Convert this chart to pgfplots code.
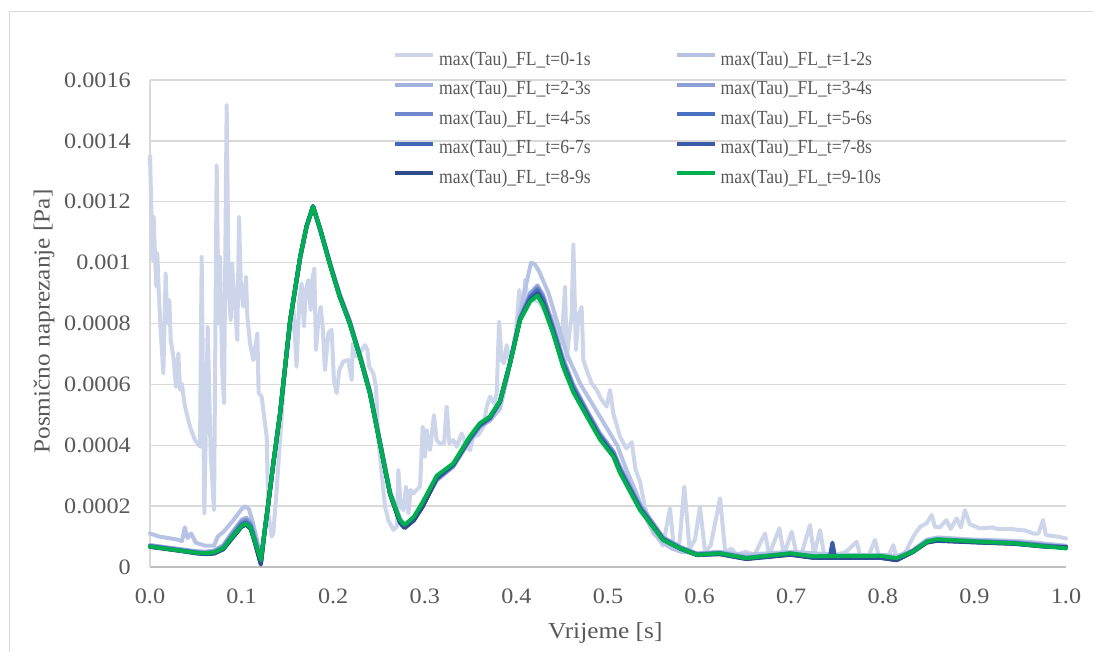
\documentclass[border=0pt]{standalone}
\usepackage{fontspec}
\setmainfont{Liberation Serif}
\newfontfamily\tickfont{Liberation Serif}[FakeStretch=1.1]
\newfontfamily\legfont{Liberation Serif}[FakeStretch=0.88]
\usepackage{pgfplots}
\usepackage{pgfplotstable}
\pgfplotsset{compat=1.18}
\definecolor{cA}{HTML}{CDD5EA}
\definecolor{cB}{HTML}{B6C3E5}
\definecolor{cC}{HTML}{A2B3DF}
\definecolor{cD}{HTML}{8C9FD7}
\definecolor{cE}{HTML}{7089CE}
\definecolor{cF}{HTML}{4A72C4}
\definecolor{cG}{HTML}{4368BA}
\definecolor{cH}{HTML}{3B5BA8}
\definecolor{cI}{HTML}{2F4D8E}
\definecolor{cJ}{HTML}{00B050}
\definecolor{gridgray}{HTML}{D9D9D9}
\definecolor{axgray}{HTML}{BFBFBF}
\definecolor{txtgray}{HTML}{595959}

\pgfplotstableread{
x      a        b        c        d        e        f        g        h
0.000  0.000072 0.000070 0.000069 0.000068 0.000068 0.000067 0.000066 0.000067
0.010  0.000068 0.000066 0.000065 0.000064 0.000064 0.000063 0.000062 0.000063
0.020  0.000064 0.000062 0.000061 0.000060 0.000060 0.000059 0.000058 0.000059
0.030  0.000060 0.000058 0.000057 0.000056 0.000055 0.000055 0.000054 0.000055
0.040  0.000056 0.000054 0.000053 0.000052 0.000051 0.000050 0.000050 0.000051
0.050  0.000052 0.000050 0.000049 0.000047 0.000046 0.000046 0.000045 0.000047
0.060  0.000050 0.000048 0.000046 0.000045 0.000044 0.000043 0.000042 0.000045
0.070  0.000054 0.000051 0.000049 0.000047 0.000046 0.000045 0.000044 0.000048
0.080  0.000072 0.000068 0.000065 0.000062 0.000060 0.000059 0.000058 0.000062
0.090  0.000115 0.000110 0.000106 0.000102 0.000099 0.000097 0.000095 0.000100
0.100  0.000155 0.000150 0.000145 0.000140 0.000137 0.000134 0.000132 0.000135
0.105  0.000162 0.000156 0.000152 0.000147 0.000144 0.000141 0.000139 0.000142
0.110  0.000148 0.000142 0.000137 0.000132 0.000128 0.000126 0.000124 0.000128
0.115  0.000098 0.000092 0.000087 0.000082 0.000078 0.000076 0.000074 0.000080
0.121  0.000030 0.000024 0.000018 0.000014 0.000012 0.000010 0.000008 0.000023
0.125  0.000110 0.000112 0.000113 0.000114 0.000115 0.000114 0.000113 0.000115
0.130  0.000225 0.000227 0.000228 0.000229 0.000230 0.000229 0.000228 0.000230
0.135  0.000345 0.000347 0.000348 0.000349 0.000350 0.000349 0.000348 0.000350
0.142  0.000500 0.000502 0.000504 0.000505 0.000506 0.000505 0.000504 0.000506
0.153  0.000805 0.000808 0.000809 0.000810 0.000811 0.000810 0.000810 0.000811
0.164  0.001015 0.001017 0.001018 0.001019 0.001020 0.001019 0.001020 0.001020
0.171  0.001118 0.001119 0.001120 0.001120 0.001120 0.001121 0.001120 0.001120
0.178  0.001180 0.001182 0.001184 0.001185 0.001186 0.001185 0.001185 0.001185
0.186  0.001110 0.001110 0.001109 0.001108 0.001108 0.001107 0.001107 0.001107
0.197  0.000995 0.000993 0.000991 0.000990 0.000989 0.000988 0.000988 0.000987
0.207  0.000898 0.000895 0.000893 0.000891 0.000890 0.000889 0.000889 0.000888
0.218  0.000810 0.000807 0.000805 0.000803 0.000802 0.000801 0.000801 0.000800
0.229  0.000700 0.000697 0.000695 0.000694 0.000693 0.000692 0.000692 0.000691
0.240  0.000580 0.000577 0.000575 0.000574 0.000573 0.000572 0.000572 0.000571
0.251  0.000412 0.000410 0.000408 0.000407 0.000407 0.000406 0.000406 0.000406
0.262  0.000245 0.000243 0.000242 0.000241 0.000241 0.000240 0.000240 0.000242
0.273  0.000150 0.000149 0.000148 0.000147 0.000147 0.000146 0.000145 0.000154
0.278  0.000133 0.000132 0.000131 0.000130 0.000130 0.000129 0.000128 0.000138
0.288  0.000158 0.000157 0.000156 0.000155 0.000155 0.000154 0.000153 0.000165
0.298  0.000205 0.000204 0.000203 0.000202 0.000202 0.000201 0.000200 0.000215
0.313  0.000285 0.000286 0.000288 0.000290 0.000292 0.000293 0.000294 0.000300
0.331  0.000330 0.000331 0.000333 0.000334 0.000335 0.000336 0.000337 0.000340
0.349  0.000415 0.000417 0.000419 0.000421 0.000423 0.000424 0.000425 0.000428
0.360  0.000460 0.000462 0.000464 0.000466 0.000467 0.000468 0.000469 0.000472
0.371  0.000485 0.000487 0.000488 0.000489 0.000490 0.000491 0.000492 0.000494
0.382  0.000540 0.000541 0.000542 0.000543 0.000543 0.000544 0.000544 0.000545
0.393  0.000670 0.000670 0.000670 0.000669 0.000669 0.000669 0.000669 0.000669
0.404  0.000820 0.000818 0.000817 0.000815 0.000814 0.000813 0.000812 0.000811
0.415  0.000900 0.000895 0.000890 0.000886 0.000882 0.000878 0.000875 0.000872
0.423  0.000925 0.000920 0.000915 0.000910 0.000905 0.000900 0.000896 0.000892
0.429  0.000895 0.000890 0.000885 0.000880 0.000875 0.000870 0.000866 0.000860
0.440  0.000795 0.000790 0.000786 0.000782 0.000778 0.000774 0.000771 0.000768
0.451  0.000685 0.000680 0.000676 0.000672 0.000668 0.000664 0.000661 0.000658
0.462  0.000600 0.000596 0.000592 0.000588 0.000584 0.000581 0.000578 0.000575
0.477  0.000515 0.000512 0.000508 0.000505 0.000502 0.000499 0.000497 0.000494
0.491  0.000440 0.000437 0.000434 0.000431 0.000428 0.000425 0.000423 0.000420
0.506  0.000380 0.000377 0.000374 0.000371 0.000368 0.000366 0.000364 0.000362
0.513  0.000330 0.000326 0.000323 0.000320 0.000317 0.000314 0.000312 0.000310
0.535  0.000205 0.000201 0.000198 0.000195 0.000192 0.000190 0.000189 0.000187
0.560  0.000098 0.000096 0.000094 0.000092 0.000091 0.000090 0.000090 0.000089
0.579  0.000066 0.000064 0.000063 0.000062 0.000061 0.000061 0.000060 0.000061
0.597  0.000044 0.000043 0.000042 0.000041 0.000040 0.000040 0.000039 0.000040
0.622  0.000048 0.000047 0.000046 0.000045 0.000044 0.000043 0.000042 0.000045
0.651  0.000032 0.000031 0.000030 0.000029 0.000028 0.000027 0.000026 0.000029
0.699  0.000046 0.000045 0.000044 0.000043 0.000042 0.000041 0.000040 0.000045
0.724  0.000036 0.000035 0.000034 0.000033 0.000032 0.000031 0.000030 0.000035
0.742  0.000035 0.000034 0.000033 0.000032 0.000031 0.000030 0.000030 0.000036
0.745  0.000035 0.000034 0.000033 0.000032 0.000031 0.000080 0.000030 0.000036
0.748  0.000035 0.000034 0.000033 0.000032 0.000031 0.000030 0.000030 0.000036
0.797  0.000036 0.000035 0.000034 0.000033 0.000032 0.000031 0.000030 0.000037
0.815  0.000028 0.000027 0.000026 0.000025 0.000024 0.000023 0.000022 0.000029
0.833  0.000055 0.000054 0.000053 0.000052 0.000051 0.000050 0.000049 0.000050
0.848  0.000086 0.000085 0.000084 0.000083 0.000082 0.000081 0.000080 0.000083
0.859  0.000092 0.000091 0.000090 0.000089 0.000088 0.000087 0.000086 0.000091
0.906  0.000086 0.000085 0.000084 0.000083 0.000082 0.000081 0.000080 0.000083
0.943  0.000082 0.000081 0.000080 0.000079 0.000078 0.000077 0.000076 0.000078
0.979  0.000072 0.000071 0.000070 0.000069 0.000068 0.000067 0.000066 0.000067
1.000  0.000067 0.000066 0.000065 0.000064 0.000064 0.000065 0.000066 0.000061
}\maintable

\begin{document}
\begin{tikzpicture}
\useasboundingbox (0pt,0pt) rectangle (1093pt,652pt);
\draw[color=gridgray, line width=1.2pt] (9.5pt,0pt) -- (9.5pt,640.5pt) -- (1093pt,640.5pt);
\begin{axis}[
  at={(150pt,85pt)}, anchor=south west,
  width=916pt, height=487pt, scale only axis,
  xmin=0, xmax=1, ymin=0, ymax=0.0016,
  axis x line*=bottom, axis y line*=left,
  x axis line style={-, color=axgray, line width=1.3pt},
  y axis line style={-, color=gridgray, line width=1.3pt},
  ymajorgrids, grid style={color=gridgray, line width=1.3pt},
  major tick length=0pt,
  scaled y ticks=false, scaled x ticks=false,
  /pgf/number format/assume math mode=true,
  xtick={0,0.1,0.2,0.3,0.4,0.5,0.6,0.7,0.8,0.9,1},
  xticklabels={0.0,0.1,0.2,0.3,0.4,0.5,0.6,0.7,0.8,0.9,1.0},
  ytick={0,0.0002,0.0004,0.0006,0.0008,0.001,0.0012,0.0014,0.0016},
  yticklabels={0,0.0002,0.0004,0.0006,0.0008,0.001,0.0012,0.0014,0.0016},
  tick label style={font=\tickfont\fontsize{22}{22}\selectfont, text=txtgray},
  xticklabel style={anchor=north, inner sep=0pt, yshift=-22pt},
  yticklabel style={anchor=east, inner sep=0pt, xshift=-19pt},
  xlabel={Vrijeme [s]}, ylabel={Posmično naprezanje [Pa]},
  label style={font=\tickfont\fontsize{23}{23}\selectfont, text=txtgray},
  x label style={at={(axis description cs:0.497,-0.1355)}, anchor=center},
  y label style={at={(axis description cs:-0.1157,0.504)}, anchor=center},
  legend columns=2,
  legend cell align=left,
  legend style={at={(0.2653,1.059)}, anchor=north west, draw=none, fill=none,
    font=\legfont\fontsize{20}{20}\selectfont, text=txtgray,
    row sep=11.4pt, inner sep=0pt,
    nodes={inner sep=0pt, text height=14pt, text depth=4pt},
    /tikz/every odd column/.append style={column sep=4pt},
    /tikz/every even column/.append style={column sep=84pt}},
  legend image code/.code={\draw[#1, line width=4pt, line cap=butt] (0pt,5pt) -- (38pt,5pt);},
  every axis plot/.append style={line width=4pt, line join=round, line cap=round},
  clip=false,
]
\addplot[cA] coordinates {
(0,0.00135)(0.0029,0.001009)(0.004,0.001151)(0.0055,0.00102)(0.0069,0.000921)(0.008,0.001031)(0.0095,0.00091)(0.0116,0.000779)(0.0146,0.000636)(0.0171,0.000965)(0.0189,0.000801)(0.0211,0.000877)(0.0226,0.000746)(0.0255,0.000691)(0.0284,0.000592)(0.0309,0.000702)(0.0328,0.000582)(0.0346,0.000603)(0.0382,0.000527)(0.0437,0.000461)(0.0491,0.000417)(0.0546,0.000395)(0.0564,0.00102)(0.0593,0.000176)(0.063,0.00079)(0.0662,0.000373)(0.0699,0.000187)(0.0728,0.00132)(0.075,0.0008)(0.0764,0.00102)(0.079,0.000636)(0.0808,0.000538)(0.0837,0.001518)(0.0859,0.00091)(0.0881,0.000811)(0.0895,0.000998)(0.0921,0.000888)(0.0953,0.000746)(0.0972,0.00115)(0.0993,0.00091)(0.1019,0.000855)(0.1048,0.000954)(0.1063,0.000822)(0.1092,0.000735)(0.1128,0.00068)(0.1172,0.000768)(0.1186,0.000571)(0.1219,0.00056)(0.1255,0.000472)(0.1274,0.000428)(0.1292,0.000176)(0.1328,0.0001)(0.1346,0.00011)(0.1383,0.000253)(0.1419,0.000417)(0.1492,0.000724)(0.1547,0.0008)(0.1565,0.000855)(0.16,0.000658)(0.163,0.000877)(0.1655,0.000932)(0.1681,0.00079)(0.1703,0.00091)(0.1728,0.000943)(0.1754,0.000844)(0.1772,0.000943)(0.1794,0.000981)(0.1812,0.000713)(0.1838,0.000811)(0.1863,0.000855)(0.1885,0.00079)(0.191,0.000647)(0.1947,0.000768)(0.1983,0.000779)(0.2008,0.000614)(0.2038,0.000571)(0.2067,0.000647)(0.211,0.000675)(0.2165,0.00068)(0.2202,0.000614)(0.2213,0.000735)(0.2256,0.000691)(0.2311,0.000713)(0.2347,0.000729)(0.2373,0.000713)(0.2394,0.000658)(0.2438,0.000636)(0.2467,0.000592)(0.2493,0.000417)(0.253,0.000308)(0.2566,0.000198)(0.2602,0.000154)(0.2657,0.000122)(0.2694,0.000132)(0.2711,0.000319)(0.2737,0.000198)(0.2766,0.000187)(0.2795,0.000264)(0.2821,0.000176)(0.2846,0.000253)(0.2875,0.000242)(0.2911,0.000253)(0.2948,0.000264)(0.2977,0.000461)(0.3002,0.000362)(0.302,0.00045)(0.3057,0.000384)(0.31,0.000499)(0.3129,0.000417)(0.3166,0.000406)(0.321,0.000406)(0.3239,0.000527)(0.3268,0.000406)(0.3311,0.000417)(0.3348,0.000395)(0.3403,0.000439)(0.3457,0.000395)(0.3494,0.000384)(0.353,0.000428)(0.3585,0.000434)(0.364,0.000461)(0.3676,0.000527)(0.3712,0.00056)(0.3756,0.000538)(0.3785,0.000571)(0.3811,0.000806)(0.384,0.00068)(0.3865,0.000669)(0.3894,0.000729)(0.3931,0.000669)(0.3985,0.000735)(0.4032,0.00091)(0.4069,0.000822)(0.4094,0.000943)(0.412,0.00089)(0.418,0.00088)(0.425,0.00087)(0.433,0.00083)(0.4403,0.000822)(0.4458,0.000779)(0.4494,0.000735)(0.4531,0.000921)(0.4549,0.00068)(0.4578,0.000768)(0.4603,0.000822)(0.4622,0.00106)(0.465,0.000713)(0.4676,0.000822)(0.4712,0.000855)(0.4731,0.00068)(0.4767,0.000647)(0.4822,0.000603)(0.4876,0.000582)(0.4931,0.000549)(0.4985,0.000527)(0.5022,0.000582)(0.5058,0.000505)(0.5131,0.000428)(0.52,0.00039)(0.526,0.00041)(0.53,0.00032)(0.535,0.00028)(0.54,0.0002)(0.545,0.00015)(0.55,0.00012)(0.556,0.00009)(0.56,0.00007)(0.5677,0.000193)(0.572,0.00006)(0.578,0.00008)(0.5833,0.000264)(0.589,0.00006)(0.595,0.00009)(0.6004,0.000198)(0.606,0.00005)(0.612,0.00007)(0.6223,0.000226)(0.628,0.00005)(0.635,0.00006)(0.64,0.00004)(0.65,0.00005)(0.66,0.00004)(0.6714,0.00011)(0.676,0.00004)(0.6871,0.000127)(0.692,0.00004)(0.7005,0.000116)(0.706,0.00004)(0.712,0.00005)(0.7205,0.000138)(0.725,0.00004)(0.7314,0.000121)(0.736,0.00004)(0.75,0.00004)(0.76,0.00005)(0.7715,0.000083)(0.776,0.00003)(0.785,0.00004)(0.7915,0.000089)(0.796,0.00003)(0.805,0.00003)(0.8115,0.000072)(0.815,0.00003)(0.825,0.00005)(0.8333,0.0001)(0.8406,0.000132)(0.8479,0.000144)(0.8533,0.000171)(0.857,0.000132)(0.862,0.00013)(0.8696,0.000154)(0.874,0.000125)(0.8806,0.00016)(0.8852,0.00013)(0.8897,0.000187)(0.895,0.00014)(0.9061,0.000127)(0.92,0.00013)(0.925,0.000125)(0.9388,0.000125)(0.955,0.00012)(0.9643,0.00011)(0.97,0.00011)(0.9749,0.000154)(0.978,0.000105)(0.99,0.0001)(1.0,0.000094)
};
\addlegendentry{max(Tau)\_FL\_t=0-1s}
\addplot[cB] coordinates {
(0,0.00011)(0.01,0.0001)(0.02,0.000095)(0.03,0.00009)(0.035,0.000085)(0.038,0.00013)(0.041,0.000095)(0.045,0.00011)(0.05,0.00008)(0.06,0.00007)(0.07,0.00007)(0.074,0.0001)(0.08,0.000115)(0.09,0.00015)(0.095,0.00017)(0.1,0.00019)(0.104,0.0002)(0.108,0.00019)(0.112,0.00015)(0.116,0.0001)(0.121,0.00003)(0.125,0.00012)(0.13,0.00023)(0.135,0.00035)(0.142,0.0005)(0.153,0.0008)(0.164,0.00101)(0.171,0.00112)(0.178,0.00118)(0.186,0.0011)(0.197,0.00099)(0.207,0.00089)(0.218,0.0008)(0.229,0.0007)(0.24,0.00058)(0.251,0.00042)(0.262,0.00025)(0.273,0.00016)(0.278,0.00014)(0.288,0.00016)(0.298,0.00021)(0.313,0.00029)(0.331,0.00033)(0.349,0.00042)(0.36,0.00046)(0.371,0.00048)(0.382,0.00052)(0.39,0.00062)(0.4,0.00078)(0.41,0.00092)(0.416,0.001)(0.42,0.000995)(0.425,0.00097)(0.435,0.0009)(0.445,0.0008)(0.455,0.0007)(0.47,0.0006)(0.49,0.0005)(0.5,0.00045)(0.51,0.0004)(0.52,0.00032)(0.53,0.00025)(0.54,0.00017)(0.55,0.00011)(0.56,0.00008)(0.57,0.00006)(0.58,0.00005)(0.6,0.000045)(0.62,0.00005)(0.65,0.00004)(0.7,0.00005)(0.75,0.00004)(0.8,0.00004)(0.815,0.000035)(0.833,0.000055)(0.848,0.00009)(0.86,0.000097)(0.9,0.00009)(0.95,0.000085)(1.0,0.00007)
};
\addlegendentry{max(Tau)\_FL\_t=1-2s}
\addplot[cC] table[x=x,y=a] {\maintable};
\addlegendentry{max(Tau)\_FL\_t=2-3s}
\addplot[cD] table[x=x,y=b] {\maintable};
\addlegendentry{max(Tau)\_FL\_t=3-4s}
\addplot[cE] table[x=x,y=c] {\maintable};
\addlegendentry{max(Tau)\_FL\_t=4-5s}
\addplot[cF] table[x=x,y=d] {\maintable};
\addlegendentry{max(Tau)\_FL\_t=5-6s}
\addplot[cG] table[x=x,y=e] {\maintable};
\addlegendentry{max(Tau)\_FL\_t=6-7s}
\addplot[cH] table[x=x,y=f] {\maintable};
\addlegendentry{max(Tau)\_FL\_t=7-8s}
\addplot[cI] table[x=x,y=g] {\maintable};
\addlegendentry{max(Tau)\_FL\_t=8-9s}
\addplot[cJ] table[x=x,y=h] {\maintable};
\addlegendentry{max(Tau)\_FL\_t=9-10s}
\end{axis}
\end{tikzpicture}
\end{document}
